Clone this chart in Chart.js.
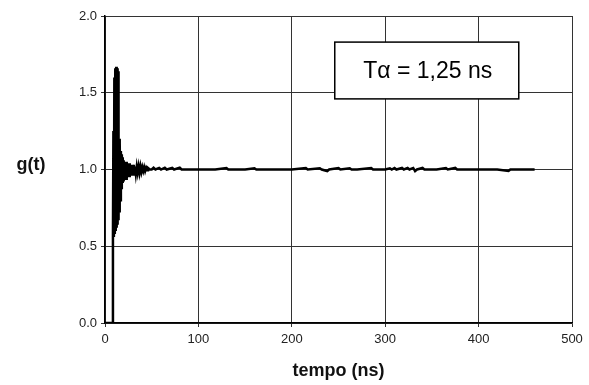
<!DOCTYPE html>
<html>
<head>
<meta charset="utf-8">
<script src="https://cdn.jsdelivr.net/npm/chart.js@4"></script>
<style>
  html, body { margin: 0; padding: 0; background: #fff; }
  canvas { display: block; }
</style>
</head>
<body>
<canvas id="chartGt" width="589" height="385"></canvas>
<script>
// tempo (ns) and g(t)
const tempoNs = [
    0, 8, 8.5, 9, 9.5, 10, 10.5, 11, 11.5, 12, 12.5, 13, 13.5, 14, 14.5,
    15, 15.5, 16, 16.5, 17, 17.5, 18, 18.5, 19, 19.5, 20,
    20.5, 21, 21.5, 22, 22.5, 23, 23.5, 24, 24.5, 25, 25.5, 26, 26.5, 27, 27.5, 28,
    28.5, 29, 29.5, 30, 30.5, 31, 31.5, 32, 33, 34, 35, 36, 37, 38,
    39, 40, 41, 42, 43, 44, 45, 46, 48,
    50, 52, 54, 58, 60, 64, 66, 72, 74, 80, 82, 95, 102, 118, 130, 132,
    150, 160, 162, 185, 200, 215, 217, 230, 232, 238, 240, 250, 252, 262,
    264, 270, 285, 287, 300, 305, 307, 310, 312, 318, 320, 324, 326, 330,
    332, 334, 340, 342, 355, 365, 367, 375, 377, 390, 420, 432, 434, 460
];
const gValues = [
    0, 0, 0.57, 1.25, 0.56, 1.6, 0.58, 1.66, 0.6, 1.67, 0.62, 1.66, 0.64, 1.64, 0.67,
    1.2, 0.72, 1.17, 0.8, 1.12, 0.88, 1.1, 0.92, 1.08, 0.93, 1.06,
    0.94, 1.05, 0.95, 1.04, 0.94, 1.05, 0.95, 1.04, 0.95, 1.04, 0.96, 1.04, 0.95, 1.03, 0.96, 1.03,
    0.96, 1.03, 0.97, 1.03, 0.96, 1.03, 0.97, 1.02, 0.97, 1.02, 0.98, 1.02, 0.98, 1.02,
    0.985, 1.015, 0.99, 1.015, 0.99, 1.01, 0.995, 1.01, 1.0,
    1.0, 1.012, 1.0, 1.01, 1.0, 1.012, 1.0, 1.01, 1.0, 1.012, 1.0, 1.0, 1.0, 1.0, 1.01, 1.0,
    1.0, 1.008, 1.0, 1.0, 1.0, 1.01, 1.0, 1.008, 1.0, 0.99, 1.0, 1.01, 1.0, 1.008,
    1.0, 1.0, 1.01, 1.0, 1.0, 1.008, 1.0, 1.01, 1.0, 1.01, 1.0, 1.01, 1.0, 1.01,
    0.99, 1.0, 1.01, 1.0, 1.0, 1.01, 1.0, 1.01, 1.0, 1.0, 1.0, 0.99, 1.0, 1.0
];
const xTicks = [0, 100, 200, 300, 400, 500];
const yTicks = [0.0, 0.5, 1.0, 1.5, 2.0];
const noteText = 'T\u03b1 = 1,25 ns';

const fontFamily = 'Liberation Sans, Arial, sans-serif';
const tickFont = { family: fontFamily, size: 13 };

// extra text: horizontal y label and the note box
const extras = {
    id: 'extras',
    afterDatasetsDraw(chart) {
        const { ctx, scales: { x, y } } = chart;
        const left = x.getPixelForValue(246), right = x.getPixelForValue(443);
        const top = y.getPixelForValue(1.83), bottom = y.getPixelForValue(1.46);
        ctx.save();
        ctx.fillStyle = '#fff';
        ctx.fillRect(left, top, right - left, bottom - top);
        ctx.strokeStyle = '#000';
        ctx.lineWidth = 1.5;
        ctx.strokeRect(left, top, right - left, bottom - top);
        ctx.fillStyle = '#000';
        ctx.font = '23px ' + fontFamily;
        ctx.textAlign = 'center';
        ctx.textBaseline = 'middle';
        ctx.fillText(noteText, (left + right) / 2 + 1, (top + bottom) / 2 + 1);

        ctx.font = 'bold 18px ' + fontFamily;
        ctx.fillStyle = '#111';
        ctx.fillText('g(t)', 31, 165);
        ctx.restore();
    }
};

new Chart(document.getElementById('chartGt').getContext('2d'), {
    type: 'line',
    data: {
        datasets: [{
            data: tempoNs.map((t, i) => ({ x: t, y: gValues[i] })),
            borderColor: '#000',
            borderWidth: 2.5,
            pointRadius: 0,
            fill: false,
            tension: 0
        }]
    },
    options: {
        responsive: false,
        animation: false,
        layout: { padding: { left: 0, right: 17, top: 16, bottom: 0 } },
        plugins: { legend: { display: false }, tooltip: { enabled: false } },
        scales: {
            x: {
                type: 'linear',
                min: 0,
                max: 500,
                afterBuildTicks: s => { s.ticks = xTicks.map(v => ({ value: v })); },
                afterFit: s => { s.height = 62; },
                grid: { color: '#333', lineWidth: 1, tickLength: 4 },
                border: { color: '#000', width: 1.5 },
                ticks: { color: '#222', font: tickFont, padding: 5, maxRotation: 0 },
                title: {
                    display: true,
                    text: 'tempo (ns)',
                    color: '#111',
                    font: { family: fontFamily, size: 18, weight: 'bold' },
                    padding: { top: 4, bottom: 3 }
                }
            },
            y: {
                min: 0,
                max: 2,
                afterBuildTicks: s => { s.ticks = yTicks.map(v => ({ value: v })); },
                afterFit: s => { s.width = 105; },
                grid: { color: '#333', lineWidth: 1, tickLength: 4 },
                border: { color: '#000', width: 1.5 },
                ticks: { color: '#222', font: tickFont, padding: 4, callback: v => v.toFixed(1) }
            }
        }
    },
    plugins: [extras]
});
</script>
</body>
</html>
